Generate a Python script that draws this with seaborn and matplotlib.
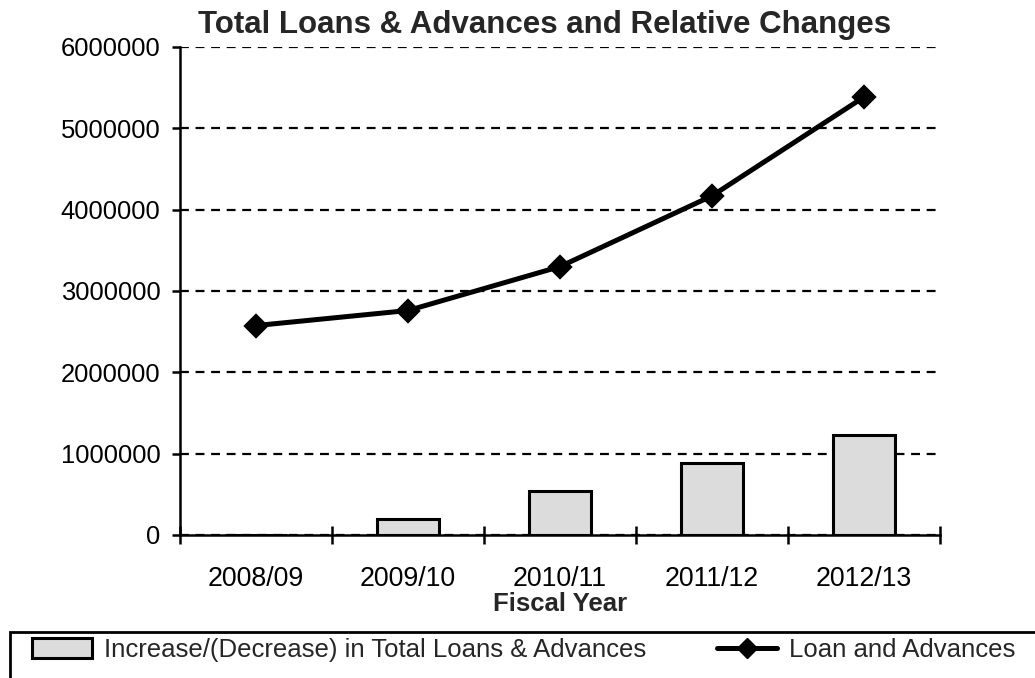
import matplotlib
matplotlib.use("Agg")
import matplotlib.pyplot as plt
import seaborn as sns
import pandas as pd
from matplotlib.patches import Patch, Rectangle
from matplotlib.lines import Line2D

years = ["2008/09", "2009/10", "2010/11", "2011/12", "2012/13"]
loans = [2575000, 2760000, 3300000, 4170000, 5385000]
changes = [0, 200000, 545000, 880000, 1225000]
yticks = [0, 1000000, 2000000, 3000000, 4000000, 5000000, 6000000]

sns.set_theme(style="white")
plt.rcParams['font.family'] = ['Liberation Sans', 'DejaVu Sans']

df = pd.DataFrame({"year": years, "loans": loans, "change": changes})

fig = plt.figure(figsize=(10.35, 6.78), dpi=100)
ax = fig.add_axes([180/1035, 1-535/678, 760/1035, 488/678])

bar_fc = "#dcdcdc"
sns.barplot(data=df, x="year", y="change", color=bar_fc, edgecolor="black",
            linewidth=2.2, width=0.41, saturation=1, ax=ax, zorder=3)
sns.pointplot(data=df, x="year", y="loans", color="black", markers="D",
              markersize=10, linewidth=3.6, ax=ax, zorder=4)

ax.set_xlim(-0.5, 4.5)
ax.set_ylim(0, 6000000)
ax.set_yticks(yticks)
ax.set_yticklabels([str(v) for v in yticks], fontsize=18.4)
ax.set_xticks(range(len(years)))
ax.set_xticklabels(years, fontsize=19.3)
ax.set_xticks([-0.5, 0.5, 1.5, 2.5, 3.5, 4.5], minor=True)
ax.tick_params(axis='x', which='major', bottom=True, length=0, pad=22, colors='black')
ax.tick_params(axis='x', which='minor', bottom=True, length=13, width=1.8,
               direction='inout', color='black')
ax.tick_params(axis='y', which='major', left=True, length=6, width=1.8,
               direction='out', pad=8, colors='black')

for s in ['top', 'right']:
    ax.spines[s].set_visible(False)
for s in ['left', 'bottom']:
    ax.spines[s].set_color('black')
    ax.spines[s].set_linewidth(1.8)

ax.yaxis.grid(True, linestyle=(0, (4, 3)), color='black', linewidth=1.6, zorder=1)
ax.set_axisbelow(True)

ax.set_xlabel("Fiscal Year", fontsize=18.5, fontweight='bold', labelpad=0)
ax.set_ylabel("")
ax.set_title("Total Loans & Advances and Relative Changes", fontsize=22.5,
             fontweight='bold', x=0.48, pad=10)

# legend frame (extends past the right and bottom edges of the figure)
fig.add_artist(Rectangle((10/1035, -0.2), 1.2, 0.2 + (678-632)/678,
                         transform=fig.transFigure, fill=False,
                         edgecolor='black', linewidth=2, clip_on=False))

handles = [Patch(facecolor=bar_fc, edgecolor="black", linewidth=2.2),
           Line2D([0], [0], color="black", marker="D", markersize=10, linewidth=3.6)]
labels = ["Increase/(Decrease) in Total Loans & Advances", "Loan and Advances"]
leg = fig.legend(handles, labels, loc='upper left',
                 bbox_to_anchor=(32/1035, 1-638/678, 983/1035, 0),
                 mode='expand', borderaxespad=0,
                 ncol=2, fontsize=18.5, frameon=False,
                 handlelength=2.35, handleheight=0.8, handletextpad=0.45,
                 borderpad=0.0)

fig.savefig("out.png", dpi=100)
